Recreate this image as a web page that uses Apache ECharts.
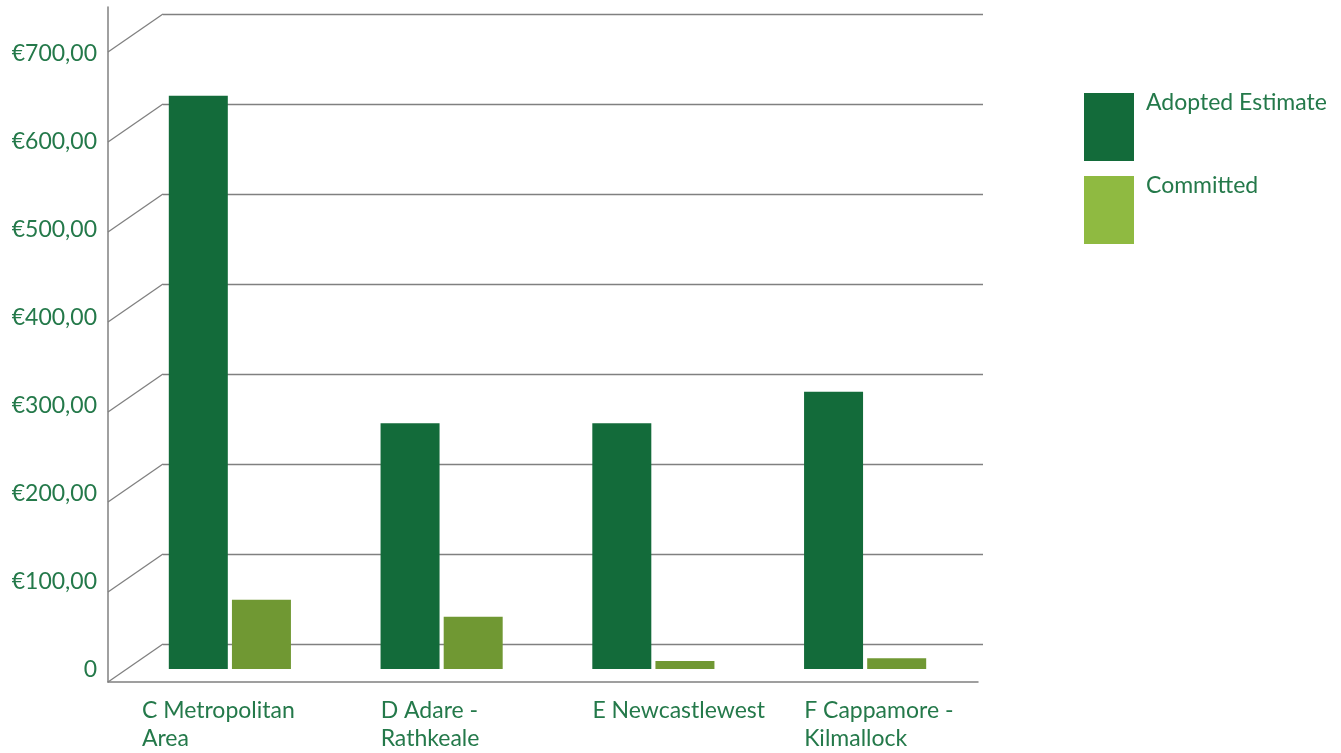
<!DOCTYPE html>
<html><head><meta charset="utf-8">
<script src="https://cdn.jsdelivr.net/npm/echarts@6/dist/echarts.min.js"></script>
<style>html,body{margin:0;padding:0;background:#fff}#c{width:1341px;height:753px}</style>
</head><body><div id="c"></div>
<script>
const categories = ['C Metropolitan\nArea', 'D Adare -\nRathkeale', 'E Newcastlewest', 'F Cappamore -\nKilmallock'];
const adoptedEstimate = [637, 273, 273, 308];
const committed = [77, 58, 9, 12];
const yTicks = [0, 100, 200, 300, 400, 500, 600, 700];
const seriesNames = ['Adopted Estimate', 'Committed'];

const FONT = 'Lato';
const FS = 23;
const TXT = '#24794a';
const GRID_COL = '#808080';
const chart = echarts.init(document.getElementById('c'));

function fmtEuro(v) {
  if (v === 0) return '0';
  if (yTicks.indexOf(v) < 0) return '';
  return '€' + v.toFixed(2).replace('.', ',');
}

const option = {
  animation: false,
  backgroundColor: '#fff',
  grid: [
    { left: 163, right: 358, top: 14, bottom: 109 },   // back wall
    { left: 108, right: 363, top: 7, bottom: 71 },     // front plane
    { left: 124, right: 370, top: 39, bottom: 84 },    // bars
    { left: 108, right: 363, top: 54, bottom: 83 },    // value labels
    { left: 36, right: 458, top: 39, bottom: 84 }      // category labels
  ],
  xAxis: [
    { gridIndex: 0, type: 'category', data: categories, show: false },
    { gridIndex: 1, type: 'category', data: categories, axisLabel: { show: false }, axisTick: { show: false },
      axisLine: { lineStyle: { color: GRID_COL, width: 1.5 } } },
    { gridIndex: 2, type: 'category', data: categories, show: false },
    { gridIndex: 3, type: 'category', data: categories, show: false },
    { gridIndex: 4, type: 'category', data: categories, axisLine: { show: false }, axisTick: { show: false },
      axisLabel: {
        margin: 32, align: 'left', fontFamily: FONT, fontSize: FS, color: TXT, lineHeight: 28, interval: 0,
        formatter: function (v, i) {
          const st = i === 0 ? 'a' : 'b';
          return v.split('\n').map(s => '{' + st + '|' + s + '}').join('\n');
        },
        rich: {
          a: { fontFamily: FONT, fontSize: FS, color: TXT, lineHeight: 28, padding: [0, 0, 0, 0] },
          b: { fontFamily: FONT, fontSize: FS, color: TXT, lineHeight: 28, padding: [0, 0, 0, 27] }
        }
      } }
  ],
  yAxis: [
    { gridIndex: 0, type: 'value', min: 0, max: 700, interval: 100, axisLabel: { show: false },
      axisLine: { show: false }, axisTick: { show: false },
      splitLine: { lineStyle: { color: GRID_COL, width: 1.3 } } },
    { gridIndex: 1, type: 'value', min: 0, max: 750, interval: 100, splitLine: { show: false },
      axisTick: { show: false }, axisLabel: { show: false },
      axisLine: { show: true, lineStyle: { color: GRID_COL, width: 1.5 } } },
    { gridIndex: 2, type: 'value', min: 0, max: 700, interval: 100, show: false },
    { gridIndex: 3, type: 'value', min: 0, max: 700, interval: 100, splitLine: { show: false },
      axisTick: { show: false }, axisLine: { show: false },
      axisLabel: { formatter: fmtEuro, margin: 11, fontFamily: FONT, fontSize: FS, color: TXT } },
    { gridIndex: 4, type: 'value', min: 0, max: 700, interval: 100, show: false }
  ],
  legend: {
    orient: 'vertical', left: 1084, top: 91, padding: 0, itemWidth: 50, itemHeight: 68, itemGap: 11,
    icon: 'rect',
    formatter: function (name) { return name + '\n \n '; },
    textStyle: { fontFamily: FONT, fontSize: FS, color: TXT, lineHeight: 24, padding: [0, 0, 0, 7] },
    data: [
      { name: seriesNames[0], itemStyle: { color: '#136b3a' } },
      { name: seriesNames[1], itemStyle: { color: '#8fba41' } }
    ]
  },
  series: [
    { name: seriesNames[0], type: 'bar', xAxisIndex: 2, yAxisIndex: 2, data: adoptedEstimate,
      barWidth: 59, barGap: '7%', itemStyle: { color: '#136b3a' } },
    { name: seriesNames[1], type: 'bar', xAxisIndex: 2, yAxisIndex: 2, data: committed,
      barWidth: 59, barGap: '7%', itemStyle: { color: '#709833' } }
  ]
};
chart.setOption(option);

// diagonal depth lines joining the front plane to the back wall at each tick
const backRect = chart.getModel().getComponent('grid', 0).coordinateSystem.getRect();
const frontRect = chart.getModel().getComponent('grid', 1).coordinateSystem.getRect();
const gfx = yTicks.map(function (v) {
  const back = chart.convertToPixel({ gridIndex: 0 }, [0, v]);
  const front = chart.convertToPixel({ gridIndex: 1 }, [0, v]);
  return {
    type: 'line', silent: true, z: 1,
    shape: { x1: frontRect.x, y1: front[1], x2: backRect.x, y2: back[1] },
    style: { stroke: GRID_COL, lineWidth: 1.3 }
  };
});
chart.setOption({ graphic: gfx });
</script></body></html>
